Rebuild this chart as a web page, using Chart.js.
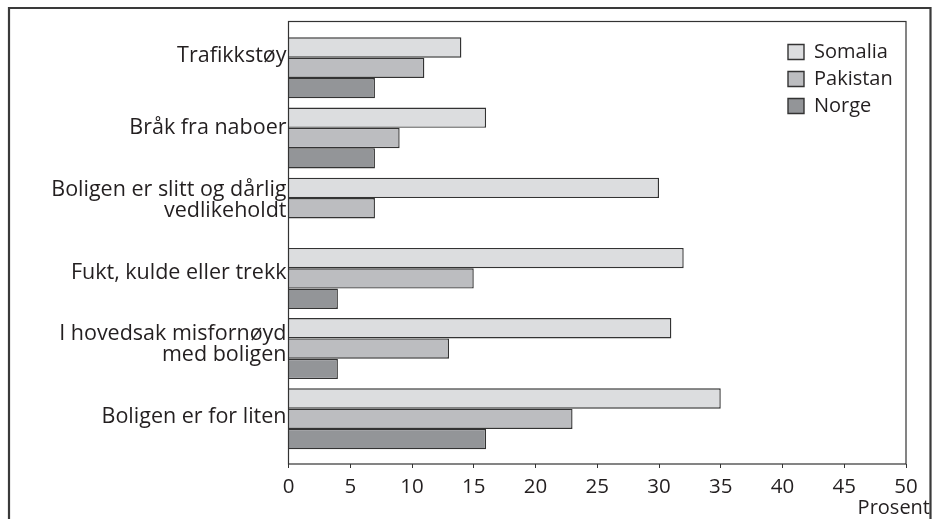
<!DOCTYPE html>
<html>
<head>
<meta charset="utf-8">
<script src="https://cdn.jsdelivr.net/npm/chart.js@4/dist/chart.umd.min.js"></script>
<style>
html,body{margin:0;padding:0;background:#ffffff;}
#wrap{width:933px;height:519px;position:relative;overflow:hidden;}
canvas{display:block;}
</style>
</head>
<body>
<div id="wrap"><canvas id="c" width="933" height="519"></canvas></div>
<script>
// ---- data ----
const categories = [
  ["Trafikkstøy"],
  ["Bråk fra naboer"],
  ["Boligen er slitt og dårlig", "vedlikeholdt"],
  ["Fukt, kulde eller trekk"],
  ["I hovedsak misfornøyd", "med boligen"],
  ["Boligen er for liten"]
];
const seriesNames = ["Somalia", "Pakistan", "Norge"];
const somalia  = [14, 16, 30, 32, 31, 35];
const pakistan = [11,  9,  7, 15, 13, 23];
const norge    = [ 7,  7, null, 4,  4, 16];
const xTicks = [0, 5, 10, 15, 20, 25, 30, 35, 40, 45, 50];
const xTitle = "Prosent";

// ---- styles ----
const TEXT = "#231f20";
const FONT = "'Open Sans', 'Noto Sans', sans-serif";
const fills = ["#dcdddf", "#bcbdc0", "#939598"];
const edge = "#333333";

Chart.defaults.font.family = FONT;
Chart.defaults.color = TEXT;

const seriesValues = [somalia, pakistan, norge];
const datasets = seriesNames.map((name, s) => ({
  label: name,
  data: seriesValues[s].map((v, i) => ({ x: v, y: i })),
  backgroundColor: fills[s],
  borderColor: edge,
  borderWidth: 1.4,
  borderSkipped: "start",
  xAxisID: "x",
  yAxisID: "yb",
  categoryPercentage: 0.869,
  barPercentage: 1.0
}));

const intTicks = (scale) => { scale.ticks = categories.map((_, i) => ({ value: i })); };

const framePlugin = {
  id: "frame",
  afterLayout(chart) {
    const lg = chart.legend;
    if (lg) {
      const w = lg.right - lg.left;
      lg.left = 781; lg.right = 781 + w;
      lg.top = 35;
    }
  },
  afterDraw(chart) {
    const ctx = chart.ctx;
    const a = chart.chartArea;
    ctx.save();
    // outer frame
    ctx.strokeStyle = "#3a3a3a";
    ctx.lineWidth = 2.2;
    ctx.beginPath();
    ctx.moveTo(9, 530);
    ctx.lineTo(9, 8);
    ctx.lineTo(930.5, 8);
    ctx.lineTo(930.5, 530);
    ctx.stroke();
    // plot box
    ctx.strokeStyle = "#333333";
    ctx.lineWidth = 1.2;
    ctx.strokeRect(a.left, a.top, a.right - a.left, a.bottom - a.top);
    // axis title
    ctx.fillStyle = TEXT;
    ctx.font = "20px " + FONT;
    ctx.textAlign = "right";
    ctx.textBaseline = "middle";
    ctx.fillText(xTitle, 930, 508);
    ctx.restore();
  }
};

new Chart(document.getElementById("c"), {
  type: "bar",
  data: { datasets },
  plugins: [framePlugin],
  options: {
    indexAxis: "y",
    responsive: false,
    animation: false,
    events: [],
    layout: { padding: { left: 0, right: 27, top: 21.5, bottom: 0 } },
    scales: {
      x: {
        type: "linear",
        position: "bottom",
        min: 0,
        max: 50,
        offset: false,
        afterBuildTicks: (s) => { s.ticks = xTicks.map(v => ({ value: v })); },
        afterFit: (s) => { s.height = 55; },
        border: { display: false },
        grid: { display: true, drawOnChartArea: false, drawTicks: true, tickLength: 4, color: "#333333", lineWidth: 1, offset: false },
        ticks: { font: { size: 20.5 }, color: TEXT, padding: 7, maxRotation: 0, autoSkip: false }
      },
      yb: {
        type: "linear",
        position: "left",
        display: false,
        reverse: true,
        offset: false,
        min: -0.66,
        max: 5.644,
        grid: { offset: false },
        afterBuildTicks: intTicks
      },
      yl: {
        type: "linear",
        position: "left",
        reverse: true,
        offset: false,
        min: -0.469,
        max: 5.648,
        afterBuildTicks: intTicks,
        afterFit: (s) => { s.width = 288.5; },
        border: { display: false },
        grid: { display: false, drawTicks: false, offset: false },
        ticks: {
          font: { size: 21.5, lineHeight: 0.98 },
          color: TEXT,
          padding: 2,
          autoSkip: false,
          callback: (v) => categories[v] || ""
        }
      }
    },
    plugins: {
      legend: {
        display: true,
        position: "chartArea",
        align: "start",
        labels: {
          font: { size: 20 },
          color: TEXT,
          boxWidth: 16,
          boxHeight: 15,
          padding: 7
        }
      },
      tooltip: { enabled: false },
      title: { display: false }
    }
  }
});
</script>
</body>
</html>
